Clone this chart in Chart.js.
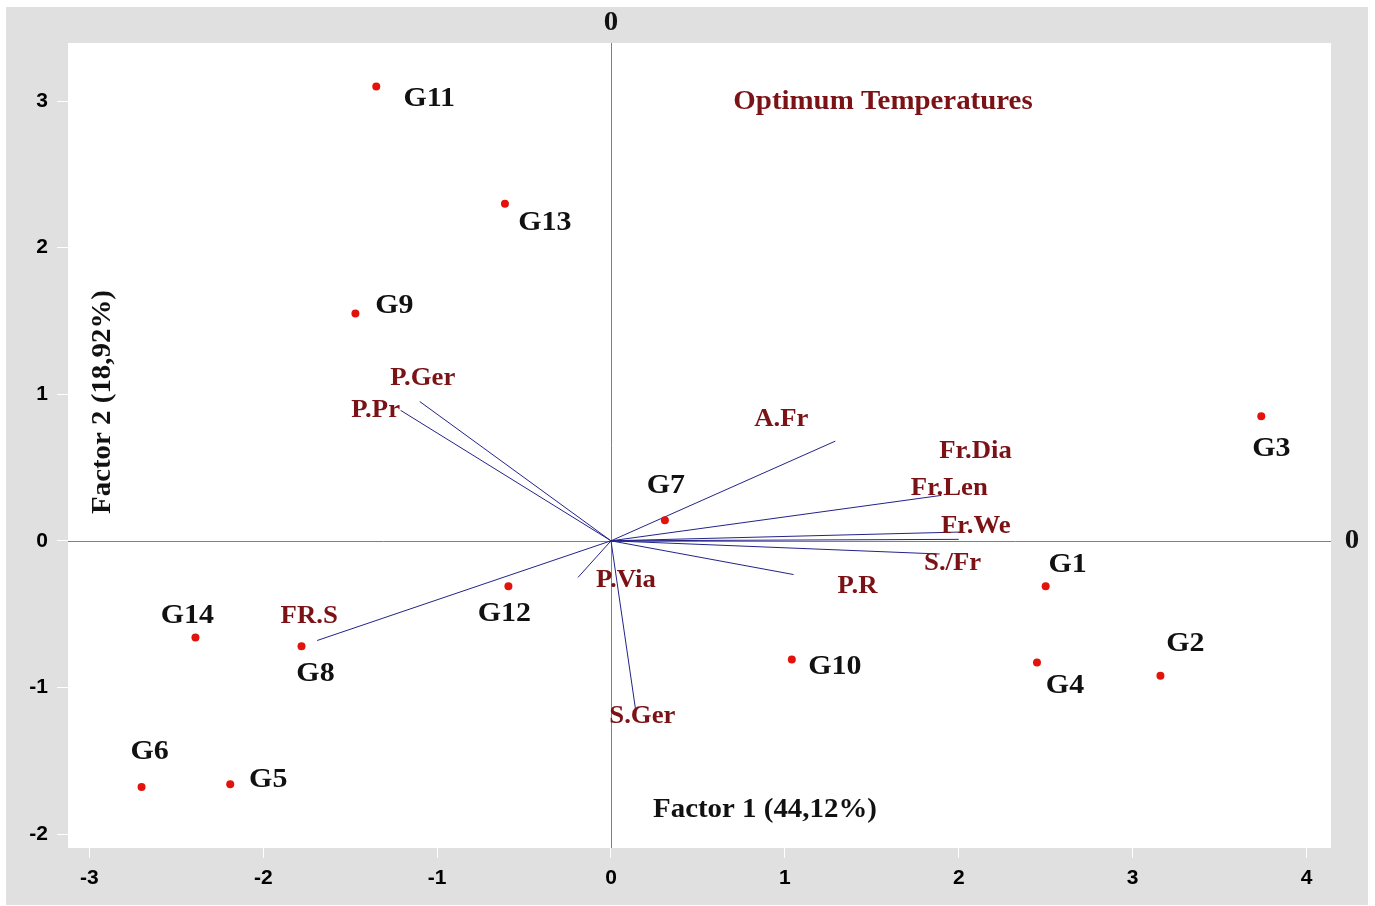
<!DOCTYPE html>
<html>
<head>
<meta charset="utf-8">
<script src="https://cdn.jsdelivr.net/npm/chart.js@4/dist/chart.umd.min.js"></script>
<style>
  html, body { margin: 0; padding: 0; background: #fff; }
  #wrap { width: 1375px; height: 906px; }
</style>
</head>
<body>
<div id="wrap"><canvas id="biplot" width="1375" height="906"></canvas></div>
<script>
// genotype scores (factor 1, factor 2)
const genotypes = ['G1', 'G2', 'G3', 'G4', 'G5', 'G6', 'G7', 'G8', 'G9', 'G10', 'G11', 'G12', 'G13', 'G14'];
const genoF1 = [2.50, 3.16, 3.74, 2.45, -2.19, -2.70, 0.31, -1.78, -1.47, 1.04, -1.35, -0.59, -0.61, -2.39];
const genoF2 = [-0.31, -0.92, 0.85, -0.83, -1.66, -1.68, 0.14, -0.72, 1.55, -0.81, 3.10, -0.31, 2.30, -0.66];

// trait loadings (vectors from the origin)
const traits = ['P.Ger', 'P.Pr', 'FR.S', 'P.Via', 'S.Ger', 'A.Fr', 'Fr.Len', 'Fr.Dia', 'Fr.We', 'S./Fr', 'P.R'];
const traitF1 = [-1.10, -1.21, -1.69, -0.19, 0.14, 1.29, 1.90, 2.01, 2.00, 1.89, 1.05];
const traitF2 = [0.95, 0.89, -0.68, -0.25, -1.14, 0.68, 0.31, 0.06, 0.01, -0.09, -0.23];

const xTicks = [-3, -2, -1, 0, 1, 2, 3, 4];
const yTicks = [-2, -1, 0, 1, 2, 3];

// label placement (pixel offsets from the mark)
const genoLabelOffset = {
  G1: [22, -21], G2: [25, -32], G3: [10, 33], G4: [28, 23], G5: [38, -4], G6: [8, -35], G7: [1, -35],
  G8: [14, 27], G9: [39, -8], G10: [43, 7], G11: [53, 12], G12: [-4, 28], G13: [40, 19], G14: [-8, -22]
};
const traitLabelOffset = {
  'P.Ger': [3, -23], 'P.Pr': [-25, 0], 'FR.S': [-8, -24], 'P.Via': [48, 3], 'S.Ger': [7, 9],
  'A.Fr': [-54, -22], 'Fr.Len': [8, -7], 'Fr.Dia': [15, -80], 'Fr.We': [17, -13], 'S./Fr': [13, 10], 'P.R': [64, 12]
};

const SERIF = '"Liberation Serif", "Times New Roman", serif';
const STRETCH = 1.07;

function stretchedText(ctx, text, x, y, font, color, rotate) {
  ctx.save();
  ctx.font = font;
  ctx.fillStyle = color;
  ctx.textAlign = 'center';
  ctx.textBaseline = 'middle';
  ctx.translate(x, y);
  if (rotate) ctx.rotate(rotate);
  ctx.scale(STRETCH, 1);
  ctx.fillText(text, 0, 0);
  ctx.restore();
}

const frame = {
  id: 'frame',
  beforeDraw(chart) {
    const { ctx, chartArea: a } = chart;
    ctx.save();
    ctx.fillStyle = '#fff';
    ctx.fillRect(0, 0, chart.width, chart.height);
    ctx.fillStyle = '#e0e0e0';
    ctx.fillRect(6, 7, 1362, 898);
    ctx.fillStyle = '#fff';
    ctx.fillRect(a.left, a.top, a.right - a.left, a.bottom - a.top);
    // zero axes
    const x0 = chart.scales.x.getPixelForValue(0);
    const y0 = chart.scales.y.getPixelForValue(0);
    ctx.strokeStyle = '#7f7f7f';
    ctx.lineWidth = 1;
    ctx.beginPath();
    ctx.moveTo(Math.round(x0) + 0.5, a.top);
    ctx.lineTo(Math.round(x0) + 0.5, a.bottom);
    ctx.moveTo(a.left, Math.round(y0) + 0.5);
    ctx.lineTo(a.right, Math.round(y0) + 0.5);
    ctx.stroke();
    ctx.restore();
  },
  afterDatasetsDraw(chart) {
    const { ctx } = chart;
    const sx = chart.scales.x, sy = chart.scales.y;
    const gFont = 'bold 28px ' + SERIF;
    const tFont = 'bold 25px ' + SERIF;
    genotypes.forEach((g, i) => {
      const o = genoLabelOffset[g];
      stretchedText(ctx, g, sx.getPixelForValue(genoF1[i]) + o[0], sy.getPixelForValue(genoF2[i]) + o[1], gFont, '#111');
    });
    traits.forEach((t, i) => {
      const o = traitLabelOffset[t];
      stretchedText(ctx, t, sx.getPixelForValue(traitF1[i]) + o[0], sy.getPixelForValue(traitF2[i]) + o[1], tFont, '#7b1216');
    });
    const x0 = sx.getPixelForValue(0), y0 = sy.getPixelForValue(0);
    const big = 'bold 27px ' + SERIF;
    stretchedText(ctx, 'Optimum Temperatures', 883, 102, big, '#7b1216');
    stretchedText(ctx, 'Factor 1 (44,12%)', 765, 810, big, '#111');
    stretchedText(ctx, 'Factor 2 (18,92%)', 103, 402, big, '#111', -Math.PI / 2);
    stretchedText(ctx, '0', x0, 23, big, '#111');
    stretchedText(ctx, '0', 1352, y0, big, '#111');
  }
};

const vectorSets = traits.map((t, i) => ({
  label: t,
  data: [{ x: 0, y: 0 }, { x: traitF1[i], y: traitF2[i] }],
  showLine: true,
  borderColor: '#23238a',
  borderWidth: 1,
  pointRadius: 0,
  order: 2
}));

const pointSet = {
  label: 'Genotypes',
  data: genotypes.map((g, i) => ({ x: genoF1[i], y: genoF2[i] })),
  pointRadius: 4,
  pointBackgroundColor: '#e3120b',
  pointBorderColor: '#e3120b',
  pointBorderWidth: 0,
  showLine: false,
  order: 1
};

const tickFont = { family: '"Liberation Sans", Arial, sans-serif', size: 21, weight: 'bold' };

new Chart(document.getElementById('biplot'), {
  type: 'scatter',
  data: { datasets: [...vectorSets, pointSet] },
  options: {
    responsive: false,
    animation: false,
    layout: { padding: { left: 0, top: 43, right: 44, bottom: 0 } },
    plugins: { legend: { display: false }, tooltip: { enabled: false } },
    scales: {
      x: {
        type: 'linear', min: -3.123, max: 4.141,
        afterBuildTicks: s => { s.ticks = xTicks.map(v => ({ value: v })); },
        afterFit: s => { s.height = 58; },
        border: { display: false },
        grid: { drawOnChartArea: false, drawTicks: true, tickLength: 10, color: '#fff' },
        ticks: { color: '#000', font: tickFont, padding: 8, maxRotation: 0 }
      },
      y: {
        type: 'linear', min: -2.0955, max: 3.396,
        afterBuildTicks: s => { s.ticks = yTicks.map(v => ({ value: v })); },
        afterFit: s => { s.width = 68; },
        border: { display: false },
        grid: { drawOnChartArea: false, drawTicks: true, tickLength: 11, color: '#fff' },
        ticks: { color: '#000', font: tickFont, padding: 9 }
      }
    }
  },
  plugins: [frame]
});
</script>
</body>
</html>
